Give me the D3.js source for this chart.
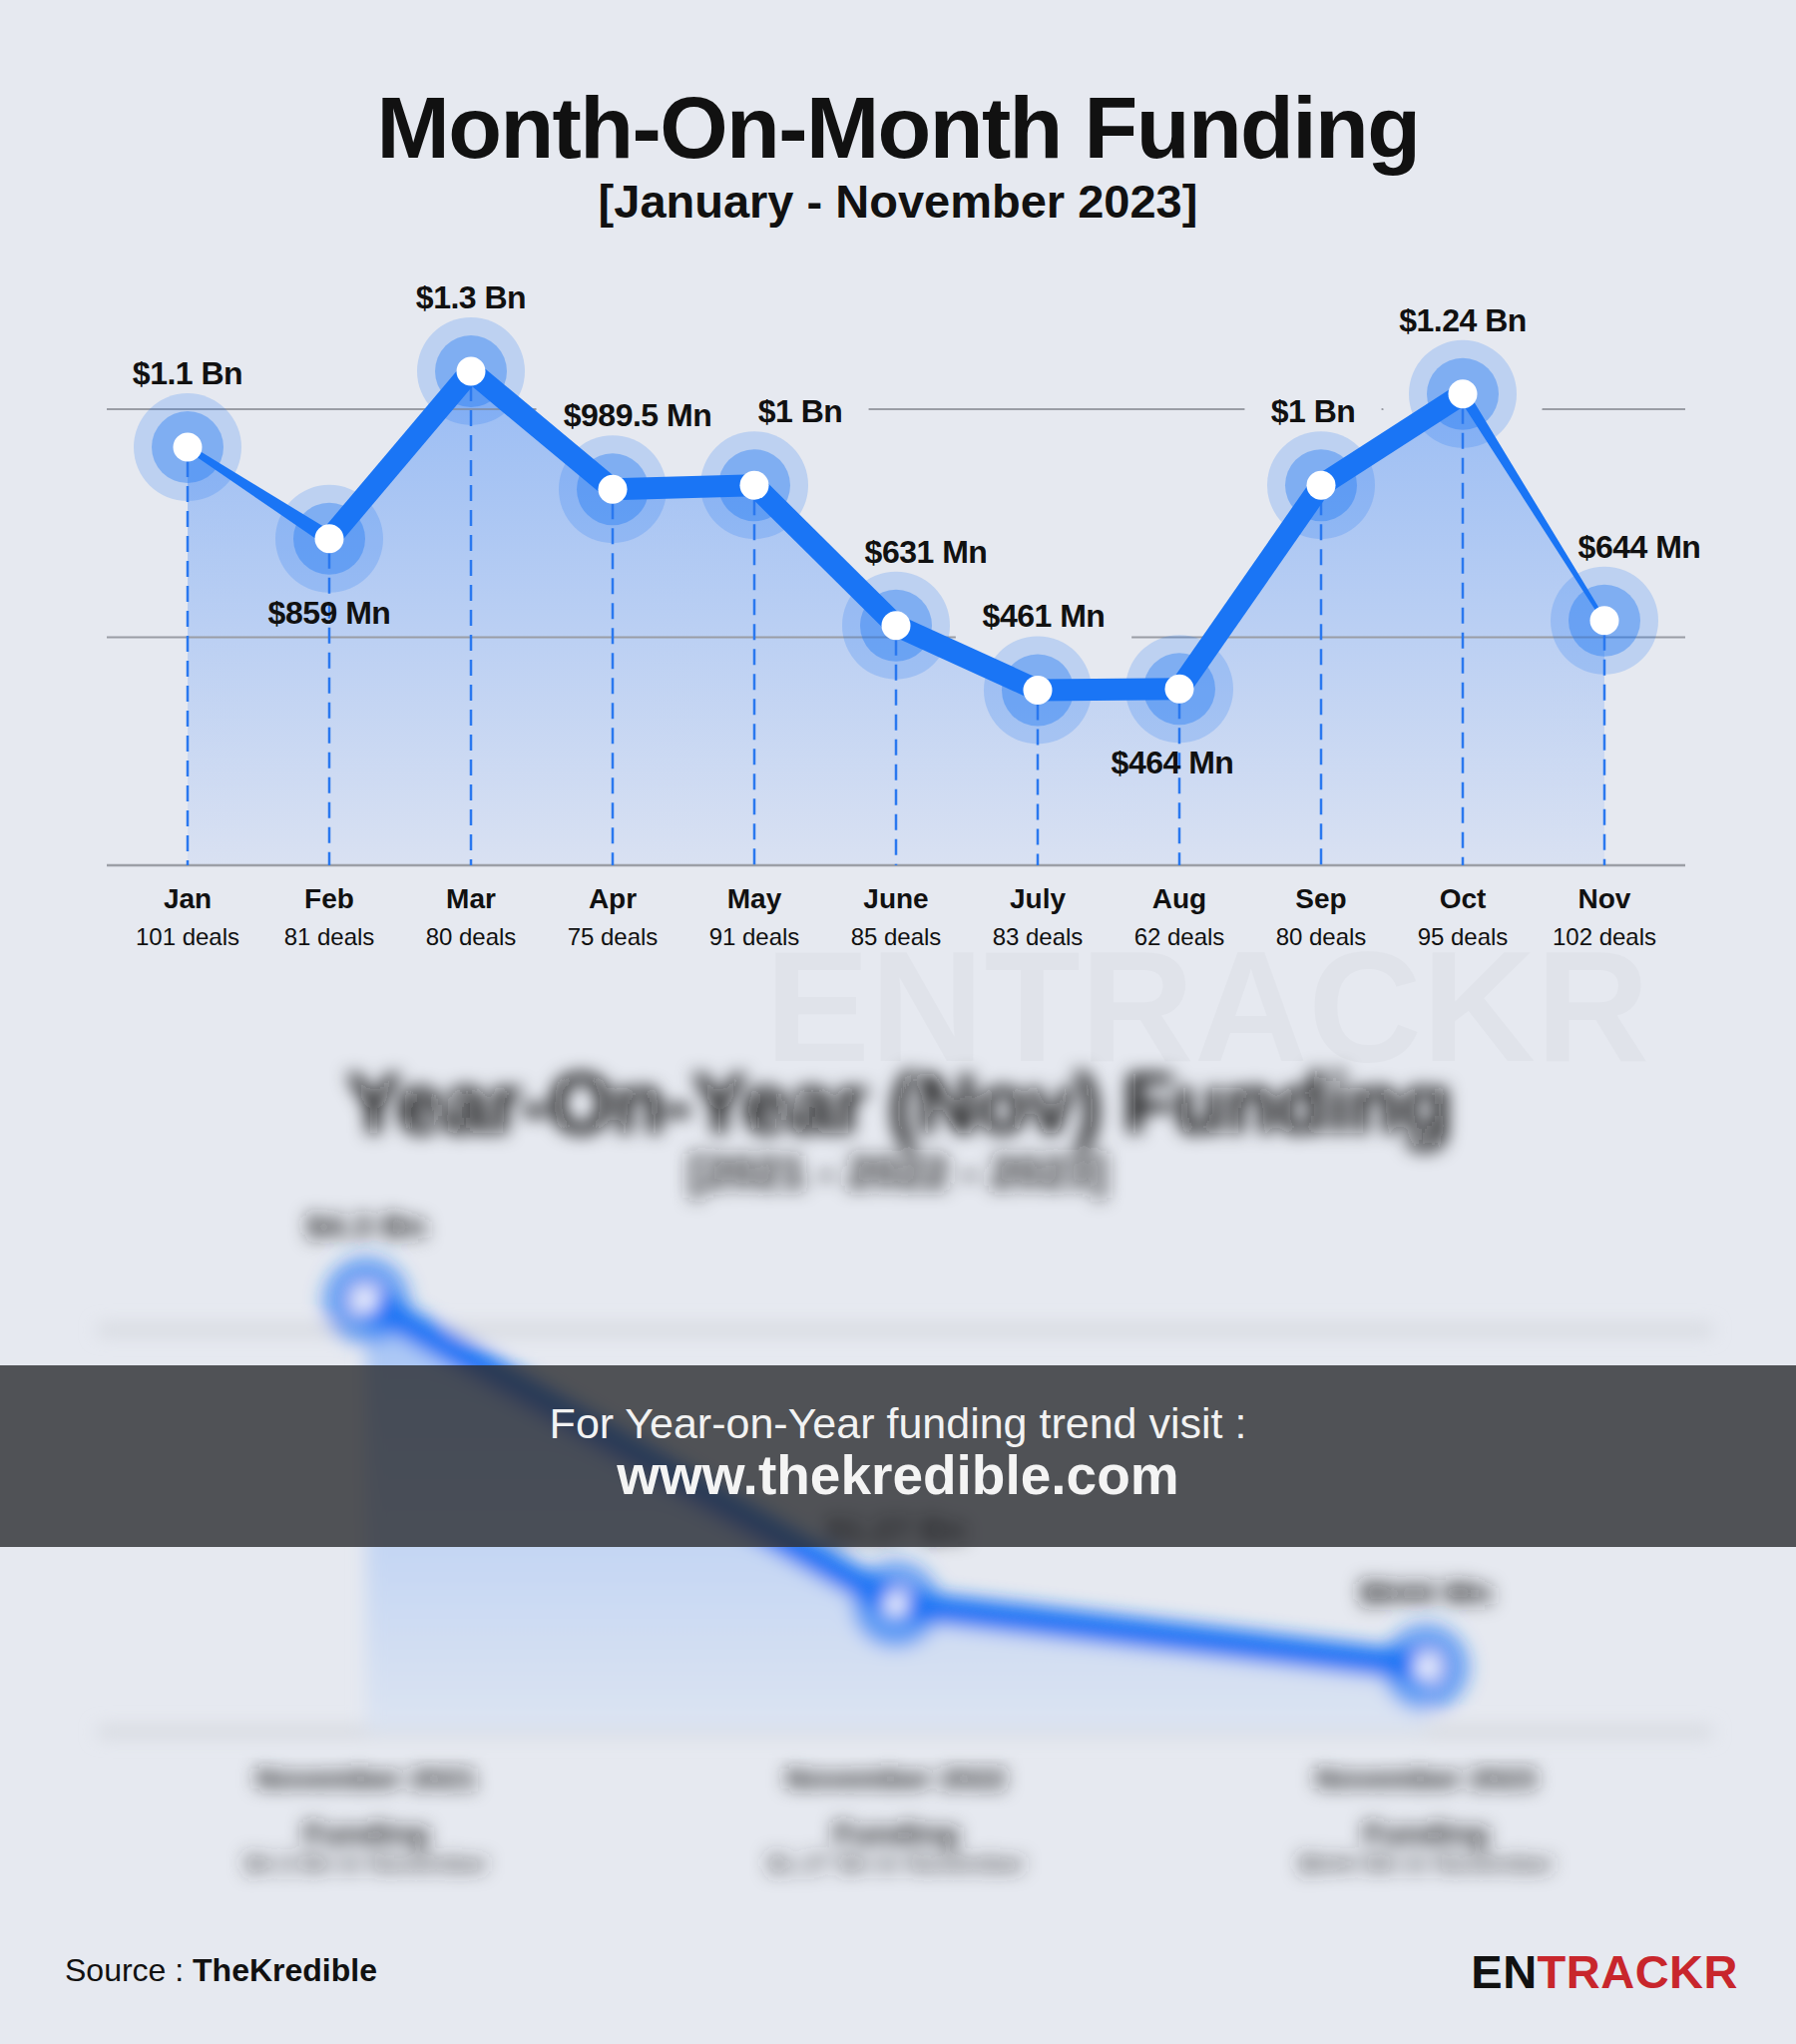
<!DOCTYPE html>
<html><head><meta charset="utf-8">
<script src="https://cdn.jsdelivr.net/npm/d3@7"></script>
<style>
html,body{margin:0;padding:0;background:#e6e9f0;}
svg{display:block;font-family:"Liberation Sans",Arial,Helvetica,sans-serif;}
</style>
</head><body>
<svg id="c" width="1800" height="2048"></svg>
<script>
// ---------------- DATA ----------------
const months = ["Jan","Feb","Mar","Apr","May","June","July","Aug","Sep","Oct","Nov"];
const fundingMn = [1100, 859, 1300, 989.5, 1000, 631, 461, 464, 1000, 1240, 644];
const valueLabels = ["$1.1 Bn","$859 Mn","$1.3 Bn","$989.5 Mn","$1 Bn","$631 Mn","$461 Mn","$464 Mn","$1 Bn","$1.24 Bn","$644 Mn"];
const dealCounts = [101, 81, 80, 75, 91, 85, 83, 62, 80, 95, 102];
const gridTicks = [0, 600, 1200];

// Year-on-year panel (blurred in the original)
const yoyPeriods = ["November 2021","November 2022","November 2023"];
const yoyFundingMn = [4300, 1270, 644];
const yoyLabels = ["$4.3 Bn","$1.27 Bn","$644 Mn"];
const yoyLine2 = ["Funding","Funding","Funding"];
const yoyLine3 = ["$4.3 Bn in November","$1.27 Bn in November","$644 Mn in November"];
const yoyTicks = [0, 4000];

// ---------------- LAYOUT / STYLE ----------------
const labelSide = ["above","below","above","above","above","above","above","below","above","above","above"];
const labelDx   = [0, 0, 0, 25, 46, 30, 6, -7, -8, 0, 35];
const segWidths = [[6,15],[22,22],[22,22],[22,22],[22,22],[22,22],[22,22],[22,22],[22,22],[11,4]];
const BLUE = "#1a75f5";
const BG = "#e6e9f0";
const TXT = "#111111";

const svg = d3.select("#c");
svg.append("rect").attr("width",1800).attr("height",2048).attr("fill",BG);

const defs = svg.append("defs");
const g1 = defs.append("linearGradient").attr("id","areaGrad")
  .attr("gradientUnits","userSpaceOnUse").attr("x1",0).attr("x2",0).attr("y1",372).attr("y2",867);
g1.append("stop").attr("offset","0%").attr("stop-color","#99bcf4");
g1.append("stop").attr("offset","100%").attr("stop-color","#d9e1f2");
const g2 = defs.append("linearGradient").attr("id","areaGrad2")
  .attr("gradientUnits","userSpaceOnUse").attr("x1",0).attr("x2",0).attr("y1",1300).attr("y2",1735);
g2.append("stop").attr("offset","0%").attr("stop-color","#a4c3f5");
g2.append("stop").attr("offset","100%").attr("stop-color","#dce4f2");
defs.append("filter").attr("id","blur").attr("filterUnits","userSpaceOnUse")
  .attr("x",0).attr("y",980).attr("width",1800).attr("height",980)
  .append("feGaussianBlur").attr("stdDeviation",9);

// ---------------- TITLE ----------------
svg.append("text").attr("x",900).attr("y",158).attr("text-anchor","middle")
  .attr("font-size",88).attr("font-weight",700).attr("letter-spacing",-1.6).attr("fill",TXT)
  .text("Month-On-Month Funding");
svg.append("text").attr("x",900).attr("y",218).attr("text-anchor","middle")
  .attr("font-size",47).attr("font-weight",700).attr("fill",TXT)
  .text("[January - November 2023]");

// watermark
svg.append("text").attr("x",1210).attr("y",1063).attr("text-anchor","middle")
  .attr("font-size",158).attr("font-weight",700).attr("fill","#000").attr("fill-opacity",0.025)
  .text("ENTRACKR");

// ---------------- MAIN CHART ----------------
const x = d3.scalePoint().domain(months).range([188,1608]);
const y = d3.scaleLinear().domain([0,1200]).range([867,410]);
const X0 = 107, X1 = 1689;
const pts = months.map((m,i)=>({m, v:fundingMn[i], x:x(m), y:y(fundingMn[i]), i}));

// area
const area = d3.area().x(d=>d.x).y0(y(0)).y1(d=>d.y);
svg.append("path").attr("d",area(pts)).attr("fill","url(#areaGrad)");

// label geometry (needed for gridline gaps)
const labelFont = 32;
const measure = svg.append("text").attr("font-size",labelFont).attr("font-weight",700).attr("visibility","hidden");
const labs = pts.map((p,i)=>{
  measure.text(valueLabels[i]);
  const w = measure.node().getComputedTextLength();
  const cx = p.x + labelDx[i];
  const by = labelSide[i]==="above" ? p.y - 63 : p.y + 85;
  return {cx, by, w, text:valueLabels[i]};
});
measure.remove();

// gridline mask: labels crossing a gridline, plus Oct's halo, interrupt the upper gridline
const mask = defs.append("mask").attr("id","gridMask").attr("maskUnits","userSpaceOnUse")
  .attr("x",0).attr("y",0).attr("width",1800).attr("height",1000);
mask.append("rect").attr("width",1800).attr("height",1000).attr("fill","#fff");
labs.forEach(l=>{
  const top = l.by - 26, bot = l.by + 6;
  gridTicks.forEach(t=>{
    const gy = y(t);
    if (gy > top - 6 && gy < bot + 6){
      mask.append("rect").attr("x",l.cx - l.w/2 - 25).attr("y",gy-4).attr("width",l.w+50).attr("height",8).attr("fill","#000");
    }
  });
});
mask.append("circle").attr("cx",x("Oct")).attr("cy",y(1240)).attr("r",81).attr("fill","#000");

svg.append("g").attr("mask","url(#gridMask)").selectAll("line").data(gridTicks.filter(t=>t>0)).join("line")
  .attr("x1",X0).attr("x2",X1).attr("y1",d=>y(d)).attr("y2",d=>y(d))
  .attr("stroke","#9a9da5").attr("stroke-width",1.8);
svg.append("line").attr("x1",X0).attr("x2",X1).attr("y1",y(0)).attr("y2",y(0))
  .attr("stroke","#9c9fa6").attr("stroke-width",2.5);

// glows
svg.append("g").selectAll("circle").data(pts).join("circle")
  .attr("cx",d=>d.x).attr("cy",d=>d.y).attr("r",54).attr("fill",BLUE).attr("fill-opacity",0.2);
svg.append("g").selectAll("circle").data(pts).join("circle")
  .attr("cx",d=>d.x).attr("cy",d=>d.y).attr("r",36).attr("fill",BLUE).attr("fill-opacity",0.38);

// dashed drop lines
svg.append("g").selectAll("line").data(pts).join("line")
  .attr("x1",d=>d.x).attr("x2",d=>d.x).attr("y1",d=>d.y+14).attr("y2",y(0))
  .attr("stroke","#2a78ef").attr("stroke-width",2.5).attr("stroke-dasharray","16 9");

// line segments with varying thickness
function segPoly(p0,p1,w0,w1){
  const dx=p1.x-p0.x, dy=p1.y-p0.y, L=Math.hypot(dx,dy);
  const nx=-dy/L, ny=dx/L;
  return [[p0.x+nx*w0/2,p0.y+ny*w0/2],[p1.x+nx*w1/2,p1.y+ny*w1/2],
          [p1.x-nx*w1/2,p1.y-ny*w1/2],[p0.x-nx*w0/2,p0.y-ny*w0/2]];
}
const segs = d3.pairs(pts).map(([a,b],i)=>segPoly(a,b,segWidths[i][0],segWidths[i][1]));
svg.append("g").selectAll("path").data(segs).join("path")
  .attr("d",d=>"M"+d.map(p=>p.join(",")).join("L")+"Z").attr("fill",BLUE);
svg.append("g").selectAll("circle").data(pts).join("circle")
  .attr("cx",d=>d.x).attr("cy",d=>d.y).attr("r",11).attr("fill",BLUE);

// white dots
svg.append("g").selectAll("circle").data(pts).join("circle")
  .attr("cx",d=>d.x).attr("cy",d=>d.y).attr("r",14.5).attr("fill","#fff");

// value labels
svg.append("g").selectAll("text").data(labs).join("text")
  .attr("x",d=>d.cx).attr("y",d=>d.by).attr("text-anchor","middle")
  .attr("font-size",labelFont).attr("font-weight",700).attr("fill",TXT).attr("letter-spacing",-0.5)
  .text(d=>d.text);

// x axis labels
const xa = svg.append("g").selectAll("g").data(pts).join("g");
xa.append("text").attr("x",d=>d.x).attr("y",910).attr("text-anchor","middle")
  .attr("font-size",28).attr("font-weight",700).attr("fill",TXT).text(d=>d.m);
xa.append("text").attr("x",d=>d.x).attr("y",947).attr("text-anchor","middle")
  .attr("font-size",24).attr("fill",TXT).text((d,i)=>dealCounts[i]+" deals");

// ---------------- BLURRED YoY PANEL ----------------
const bg = svg.append("g").attr("filter","url(#blur)");
bg.append("text").attr("x",900).attr("y",1135).attr("text-anchor","middle")
  .attr("font-size",86).attr("font-weight",700).attr("letter-spacing",-1.5).attr("fill","#111")
  .text("Year-On-Year (Nov) Funding");
bg.append("text").attr("x",900).attr("y",1190).attr("text-anchor","middle")
  .attr("font-size",46).attr("font-weight",700).attr("fill","#222")
  .text("[2021 - 2022 - 2023]");
const xy = d3.scalePoint().domain(yoyPeriods).range([367,1429]);
const yy = d3.scaleLinear().domain([0,4000]).range([1735,1333]);
const ypts = yoyPeriods.map((p,i)=>({p, x:xy(p), y:yy(yoyFundingMn[i]), i}));
bg.append("g").selectAll("line").data(yoyTicks).join("line")
  .attr("x1",98).attr("x2",1716).attr("y1",d=>yy(d)).attr("y2",d=>yy(d))
  .attr("stroke","#d2d5db").attr("stroke-width",10);
bg.append("path").attr("d",d3.area().x(d=>d.x).y0(yy(0)).y1(d=>d.y)(ypts)).attr("fill","url(#areaGrad2)");
bg.append("path").attr("d",d3.line().x(d=>d.x).y(d=>d.y)(ypts))
  .attr("fill","none").attr("stroke",BLUE).attr("stroke-width",30).attr("stroke-linejoin","round");
bg.append("g").selectAll("circle").data(ypts).join("circle")
  .attr("cx",d=>d.x).attr("cy",d=>d.y).attr("r",44).attr("fill",BLUE).attr("fill-opacity",0.6);
bg.append("g").selectAll("circle").data(ypts).join("circle")
  .attr("cx",d=>d.x).attr("cy",d=>d.y).attr("r",11).attr("fill","#fff");
bg.append("g").selectAll("text").data(ypts).join("text")
  .attr("x",d=>d.x).attr("y",d=>d.y-63).attr("text-anchor","middle")
  .attr("font-size",34).attr("font-weight",700).attr("fill","#222").text(d=>yoyLabels[d.i]);
const yb = bg.append("g").selectAll("g").data(ypts).join("g");
yb.append("text").attr("x",d=>d.x).attr("y",1792).attr("text-anchor","middle")
  .attr("font-size",30).attr("font-weight",700).attr("fill","#222").text(d=>d.p);
yb.append("text").attr("x",d=>d.x).attr("y",1848).attr("text-anchor","middle")
  .attr("font-size",32).attr("font-weight",700).attr("fill","#222").text(d=>yoyLine2[d.i]);
yb.append("text").attr("x",d=>d.x).attr("y",1876).attr("text-anchor","middle")
  .attr("font-size",26).attr("fill","#333").text(d=>yoyLine3[d.i]);

// banner
svg.append("rect").attr("x",0).attr("y",1368).attr("width",1800).attr("height",182)
  .attr("fill","#2a2c2f").attr("fill-opacity",0.8);
svg.append("text").attr("x",900).attr("y",1441).attr("text-anchor","middle")
  .attr("font-size",43).attr("fill","#f2f2f2").text("For Year-on-Year funding trend visit :");
svg.append("text").attr("x",900).attr("y",1497).attr("text-anchor","middle")
  .attr("font-size",55).attr("font-weight",700).attr("fill","#f4f4f4").text("www.thekredible.com");

// ---------------- FOOTER ----------------
const src = svg.append("text").attr("x",65).attr("y",1985).attr("font-size",32).attr("fill",TXT);
src.append("tspan").text("Source : ");
src.append("tspan").attr("font-weight",700).text("TheKredible");
const logo = svg.append("text").attr("x",1742).attr("y",1992).attr("text-anchor","end")
  .attr("font-size",47).attr("font-weight",700).attr("letter-spacing",0.5);
logo.append("tspan").attr("fill","#111").text("EN");
logo.append("tspan").attr("fill","#c8262c").text("TRACKR");
</script>
</body></html>
